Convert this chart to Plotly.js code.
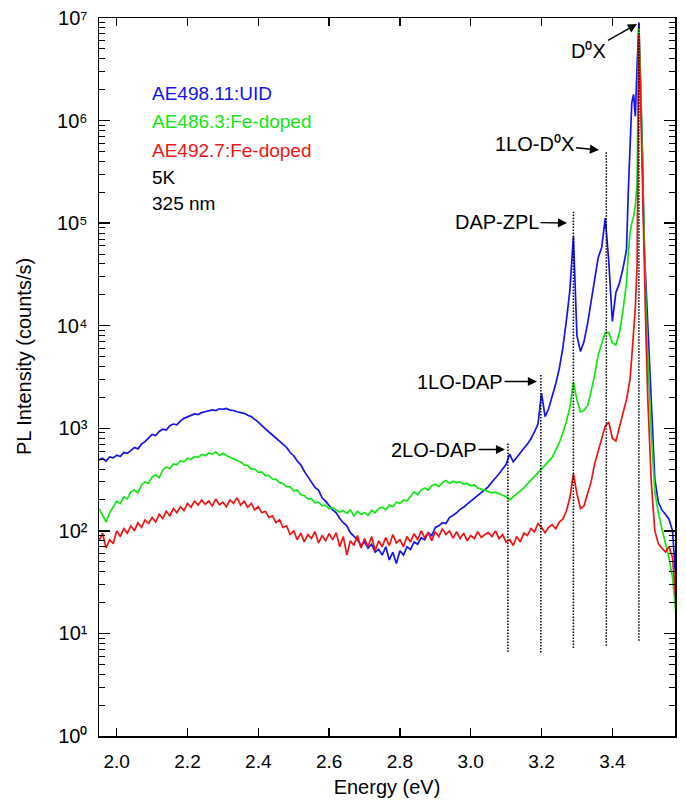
<!DOCTYPE html>
<html><head><meta charset="utf-8">
<script src="https://cdn.plot.ly/plotly-3.0.1.min.js"></script>
<style>html,body{margin:0;padding:0;background:#fff}#chart{width:686px;height:806px}</style>
</head><body><div id="chart"></div>
<script>
// Photon energy (eV)
const energy = [
1.95,1.96,1.97,1.98,1.99,2.00,2.01,2.02,2.03,2.04,
2.05,2.06,2.07,2.08,2.09,2.10,2.11,2.12,2.13,2.14,
2.15,2.16,2.17,2.18,2.19,2.20,2.21,2.22,2.23,2.24,
2.25,2.26,2.27,2.28,2.29,2.30,2.31,2.32,2.33,2.34,
2.35,2.36,2.37,2.38,2.39,2.40,2.41,2.42,2.43,2.44,
2.45,2.46,2.47,2.48,2.49,2.50,2.51,2.52,2.53,2.54,
2.55,2.56,2.57,2.58,2.59,2.60,2.61,2.62,2.63,2.64,
2.65,2.66,2.67,2.68,2.69,2.70,2.71,2.72,2.73,2.74,
2.75,2.76,2.77,2.78,2.79,2.80,2.81,2.82,2.83,2.84,
2.85,2.86,2.87,2.88,2.89,2.90,2.91,2.92,2.93,2.94,
2.95,2.96,2.97,2.98,2.99,3.00,3.01,3.02,3.03,3.04,
3.05,3.06,3.07,3.08,3.09,3.10,3.11,3.12,3.13,3.14,
3.15,3.16,3.17,3.18,3.19,3.20,3.21,3.22,3.23,3.24,
3.25,3.26,3.27,3.28,3.29,3.30,3.31,3.32,3.33,3.34,
3.35,3.36,3.37,3.38,3.39,3.40,3.41,3.42,3.43,3.44,
3.445,3.45,3.455,3.46,3.465,3.47,3.475,3.48,3.485,3.49,
3.495,3.50,3.51,3.52,3.53,3.54,3.55,3.56,3.57,3.58
];

// PL intensity (counts/s) — AE498.11:UID (blue)
const blueUID = [
490,510,480,525,515,545,530,580,570,610,
650,630,700,740,800,870,850,930,980,960,
1060,1100,1080,1180,1250,1290,1320,1380,1360,1420,
1450,1470,1510,1490,1550,1530,1560,1500,1490,1450,
1420,1400,1340,1300,1220,1150,1060,980,920,860,
800,740,690,650,580,540,480,440,380,340,
300,265,250,210,195,178,160,150,132,120,
112,96,88,82,72,78,68,74,62,66,
58,70,52,62,48,64,58,70,66,78,
74,86,82,96,90,108,112,120,118,135,
142,150,162,170,182,195,205,220,240,255,
270,300,325,360,400,445,560,470,520,580,
640,700,790,920,1100,2200,1300,1550,2000,2700,
3800,6000,11000,22000,74000,8000,5600,7000,10500,17000,
30000,46000,58000,112000,42000,11000,21000,26000,36000,55000,
200000,510000,1500000,1800000,1100000,3500000,9000000,2000000,500000,60000,
25000,10000,1500,320,190,160,145,130,100,30
];

// PL intensity (counts/s) — AE486.3:Fe-doped (green)
const greenFe = [
165,140,122,150,170,195,185,215,205,240,
250,235,280,300,290,335,350,330,390,420,
405,450,440,480,470,510,495,530,520,555,
540,575,560,590,545,570,540,520,500,480,
470,440,435,400,400,372,375,345,345,320,
318,295,290,270,268,245,250,225,220,205,
205,188,190,176,178,164,168,160,152,158,
148,160,140,155,145,150,142,158,150,165,
170,160,178,172,190,185,200,195,215,240,
225,250,262,250,275,285,270,295,310,290,
305,295,300,285,290,275,280,262,255,250,
240,235,238,228,222,215,200,215,228,245,
262,285,310,340,365,400,430,470,520,610,
720,900,1150,1600,2800,1900,1450,1500,1650,2300,
3300,5200,6800,8600,8600,6800,6500,8500,14000,26000,
50000,80000,100000,115000,150000,250000,8000000,2500000,400000,50000,
15000,5000,900,240,150,105,75,55,35,15
];

// PL intensity (counts/s) — AE492.7:Fe-doped (red)
const redFe = [
80,95,68,82,75,100,88,105,95,112,
100,120,108,128,118,135,122,145,132,155,
140,165,150,172,158,185,170,195,178,200,
182,195,175,205,180,190,172,200,185,210,
178,195,170,185,160,172,150,155,135,140,
120,128,108,112,92,100,82,95,78,92,
84,98,76,90,80,94,82,96,70,88,
58,80,72,90,68,84,70,88,64,80,
70,86,72,92,76,82,70,88,78,94,
82,100,86,96,80,98,88,105,92,100,
85,98,84,95,80,90,84,98,86,92,
96,88,100,84,92,78,82,72,88,78,
95,90,105,98,118,108,96,108,115,105,
122,130,155,210,360,230,165,175,230,300,
450,600,820,1050,1150,800,750,1000,1400,1900,
2400,3000,5000,8000,15000,40000,7000000,1500000,200000,30000,
8000,2000,300,100,75,68,62,70,55,20
];

const seriesNames = ['AE498.11:UID', 'AE486.3:Fe-doped', 'AE492.7:Fe-doped'];
const seriesColors = ['#1414f0', '#14e614', '#f01414'];
const conditions = ['5K', '325 nm'];

// Peak marker lines
const peakLabels = ['2LO-DAP', '1LO-DAP', 'DAP-ZPL', '1LO-D⁰X', 'D⁰X'];
const peakEnergy = [3.105, 3.198, 3.290, 3.383, 3.475];
const peakTop = [725, 3400, 129000, 500000, 9100000];
const peakBottom = [6.6, 6.5, 7.2, 7.6, 8.5];

const xTickVals = [2.0, 2.2, 2.4, 2.6, 2.8, 3.0, 3.2, 3.4];
const xTickText = ['2.0', '2.2', '2.4', '2.6', '2.8', '3.0', '3.2', '3.4'];
const yTickVals = [1, 10, 100, 1000, 10000, 100000, 1000000, 10000000];
const yTickText = ['10⁰', '10¹', '10²', '10³', '10⁴', '10⁵', '10⁶', '10⁷'];

const seriesValues = [blueUID, greenFe, redFe];
const traces = seriesValues.map((vals, i) => ({
  x: energy, y: vals, type: 'scatter', mode: 'lines', name: seriesNames[i],
  line: {color: seriesColors[i], width: 1.7}, hoverinfo: 'skip'
}));

const dx = [], dy = [];
peakEnergy.forEach((e, i) => { dx.push(e, e, null); dy.push(peakBottom[i], peakTop[i], null); });
traces.push({x: dx, y: dy, type: 'scatter', mode: 'lines', connectgaps: false,
  line: {color: '#000', width: 1.5, dash: '1.5px,1.5px'}, hoverinfo: 'skip'});

const FONT = 'Liberation Sans, Arial, Helvetica, sans-serif';
// arrow heads (paper coords) and text-centre offsets (px)
const labelPos = [
  {hx: 0.7049, hy: 0.3990, ax: -71, ay: 0},
  {hx: 0.7604, hy: 0.4937, ax: -77, ay: 0},
  {hx: 0.8125, hy: 0.7145, ax: -70, ay: -1},
  {hx: 0.8680, hy: 0.8162, ax: -64, ay: -6},
  {hx: 0.9340, hy: 0.9916, ax: -48, ay: 27}
];
const annotations = [];
peakLabels.forEach((t, i) => {
  const p = labelPos[i];
  annotations.push({xref: 'paper', yref: 'paper', x: p.hx, y: p.hy, text: t, showarrow: true,
    ax: p.ax, ay: p.ay, arrowhead: 2, arrowsize: 1.3, arrowwidth: 1.4, arrowcolor: '#000', standoff: 0,
    font: {family: FONT, size: 20, color: '#000'}});
});
const legendY = [0.8942, 0.8552, 0.8148];
seriesNames.forEach((n, i) => annotations.push({xref: 'paper', yref: 'paper', x: 0.0894, y: legendY[i],
  xanchor: 'left', yanchor: 'middle', text: n, showarrow: false, font: {family: FONT, size: 19, color: seriesColors[i]}}));
const condY = [0.7772, 0.7423];
conditions.forEach((c, i) => annotations.push({xref: 'paper', yref: 'paper', x: 0.0894, y: condY[i],
  xanchor: 'left', yanchor: 'middle', text: c, showarrow: false, font: {family: FONT, size: 19, color: '#000'}}));
annotations.push({xref: 'paper', yref: 'paper', x: -0.130, y: 0.528, textangle: -90,
  xanchor: 'center', yanchor: 'middle', text: 'PL Intensity (counts/s)', showarrow: false,
  font: {family: FONT, size: 20, color: '#000'}});

const layout = {
  width: 686, height: 806,
  margin: {l: 99, r: 11, t: 18, b: 70},
  paper_bgcolor: '#fff', plot_bgcolor: '#fff',
  font: {family: FONT, size: 19, color: '#000'},
  showlegend: false,
  xaxis: {
    range: [1.95, 3.577], tickmode: 'array', tickvals: xTickVals, ticktext: xTickText,
    ticks: 'inside', ticklen: 8, tickwidth: 1.3, tickcolor: '#000',
    showline: true, linecolor: '#000', linewidth: 1.5, mirror: 'ticks',
    showgrid: false, zeroline: false, tickfont: {family: FONT, size: 19},
    ticklabelstandoff: 8,
    title: {text: 'Energy (eV)', font: {family: FONT, size: 20}, standoff: 8}
  },
  yaxis: {
    type: 'log', range: [0, 7], tickmode: 'array',
    tickvals: yTickVals, ticktext: yTickText,
    ticks: 'inside', ticklen: 11, tickwidth: 1.3, tickcolor: '#000',
    minor: {ticks: 'inside', ticklen: 6, tickwidth: 1, tickcolor: '#000', dtick: 'D1', showgrid: false},
    showline: true, linecolor: '#000', linewidth: 1.5, mirror: 'ticks',
    showgrid: false, zeroline: false, tickfont: {family: FONT, size: 20},
    ticklabelstandoff: 6
  },
  annotations: annotations
};

Plotly.newPlot('chart', traces, layout, {displayModeBar: false, staticPlot: true});
</script>
</body></html>
